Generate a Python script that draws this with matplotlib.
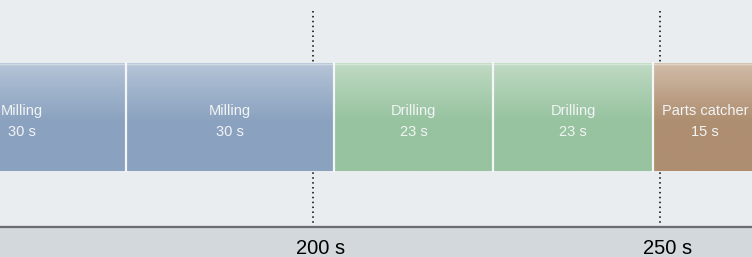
import numpy as np
import matplotlib
matplotlib.use("Agg")
import matplotlib.pyplot as plt
from matplotlib.colors import LinearSegmentedColormap
from matplotlib.transforms import offset_copy

plt.rcParams['font.family'] = ['Liberation Sans', 'DejaVu Sans']

# Data
task_labels = ["Milling", "Milling", "Drilling", "Drilling", "Parts catcher"]
task_starts = [143, 173, 203, 226, 249]
task_durations = [30, 30, 23, 23, 15]
task_top_colors = ["#b9c7d9", "#b9c7d9", "#c3dcc6", "#c3dcc6", "#d4c0ad"]
task_bottom_colors = ["#8aa2bf", "#8aa2bf", "#97c39f", "#97c39f", "#ae8e70"]
tick_values = [200, 250]
tick_labels = ["200 s", "250 s"]

W, H = 752, 257
fig = plt.figure(figsize=(W / 100, H / 100), dpi=100)
fig.patch.set_facecolor("#e9edf0")
ax = fig.add_axes([0, 0, 1, 1])
ax.set_facecolor("#e9edf0")
x0 = 200 - 313 / (347 / 50)
x1 = 200 + (W - 313) / (347 / 50)
ax.set_xlim(x0, x1)
ax.set_ylim(H, 0)
ax.axis("off")

# Bottom axis band
ax.axhspan(226, H, color="#d2d8dc", zorder=1)
ax.axhline(226.5, color="#6a6e72", lw=1.6, zorder=2)

# Dotted gridlines
for t in tick_values:
    ax.plot([t, t], [11, 226], color="black", lw=1.1, ls=(0, (1, 2.2)), zorder=1.5)

bar_top, bar_bot = 63, 171
grad = np.linspace(0, 1, 200).reshape(-1, 1)
grad = np.clip(grad / 0.55, 0, 1) ** 0.8
for lab, s, d, ct, cb in zip(task_labels, task_starts, task_durations, task_top_colors, task_bottom_colors):
    cmap = LinearSegmentedColormap.from_list("g", [ct, cb])
    ax.imshow(grad, cmap=cmap, extent=[s, s + d, bar_bot, bar_top], aspect="auto",
              interpolation="bilinear", zorder=3)
    ax.plot([s, s + d], [bar_top + 0.5, bar_top + 0.5], color="white", alpha=0.35, lw=1, zorder=3.5)
    ax.plot([s, s], [bar_top, bar_bot], color="#f4f6f8", lw=1.6, zorder=4)
    ax.text(s + d / 2, 109.5, lab, ha="center", va="center_baseline", fontsize=10.5, color="#f2f4f6", zorder=5)
    ax.text(s + d / 2, 130, f"{d} s", ha="center", va="center_baseline", fontsize=10.5, color="#f2f4f6", zorder=5)

ax.set_xlim(x0, x1)
ax.set_ylim(H, 0)

fs = 14.5
for t, l in zip(tick_values, tick_labels):
    num = l.split(" ")[0]
    half_w_pt = len(num) * 0.556 * fs / 2
    tr = offset_copy(ax.transData, fig=fig, x=-half_w_pt, y=0, units="points")
    ax.text(t, 246, l, ha="left", va="center_baseline", fontsize=fs, color="black",
            zorder=5, transform=tr)

fig.savefig("out.png", dpi=100, facecolor=fig.get_facecolor())
